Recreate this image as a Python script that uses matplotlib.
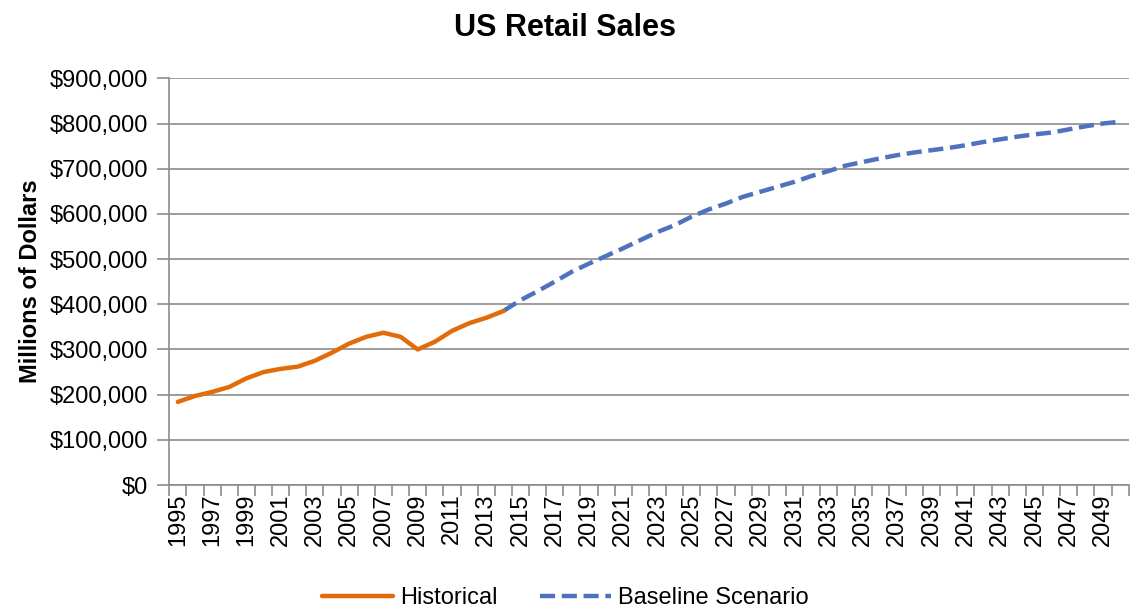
import numpy as np
import matplotlib.pyplot as plt
from matplotlib.ticker import FuncFormatter, FixedLocator

plt.rcParams['font.family'] = ['Liberation Sans', 'DejaVu Sans']

# Historical retail sales, millions of dollars
hist_years = list(range(1995, 2015))
hist_sales = [184000, 197000, 206000, 217000, 236000, 250000, 257000, 262000,
              275000, 293000, 313000, 328000, 337000, 328000, 300000, 317000,
              341000, 358000, 370000, 385000]

# Baseline projection, starting from the last historical year
base_years = list(range(2014, 2051))
base_sales = [385000, 409000, 429000, 450000, 472000, 490000, 507000, 524000,
              542000, 560000, 575000, 594000, 610000, 623000, 638000, 649000,
              660000, 671000, 684000, 695000, 707000, 715000, 723000, 730000,
              736000, 741000, 746000, 752000, 759000, 765000, 771000, 776000,
              780000, 787000, 794000, 800000, 804000]

label_years = list(range(1995, 2050, 2))

fig = plt.figure(figsize=(11.3, 6.12), dpi=100)
ax = fig.add_axes([0.1498, 0.2075, 0.849, 0.6645])

ax.plot(hist_years, hist_sales, color='#E36C0A', lw=3.2,
        solid_capstyle='round', solid_joinstyle='round',
        label='Historical', zorder=3)
ax.plot(base_years, base_sales, color='#4F72BE', lw=3.2,
        dashes=(3.4, 1.5), label='Baseline Scenario', zorder=2)

ax.set_xlim(1994.5, 2050.5)
ax.set_ylim(0, 900000)
ax.set_yticks(np.arange(0, 900001, 100000))
ax.yaxis.set_major_formatter(FuncFormatter(lambda v, p: '${:,.0f}'.format(v)))
ax.grid(axis='y', color='#8C8C8C', lw=1.2)
ax.set_axisbelow(True)

# tick marks sit between categories, labels on every other year
ax.xaxis.set_major_locator(FixedLocator(np.arange(1994.5, 2051, 1)))
ax.xaxis.set_major_formatter(FuncFormatter(lambda v, p: ''))
ax.xaxis.set_minor_locator(FixedLocator(label_years))
ax.set_xticklabels([str(y) for y in label_years], minor=True, rotation=90)
ax.tick_params(axis='x', which='major', length=8, color='#8C8C8C', width=1.2)
ax.tick_params(axis='x', which='minor', length=0, pad=6, labelsize=17)
ax.tick_params(axis='y', length=9, color='#8C8C8C', width=1.2,
               labelsize=17, pad=6)

for side in ['top', 'right']:
    ax.spines[side].set_visible(False)
for side in ['left', 'bottom']:
    ax.spines[side].set_color('#8C8C8C')
    ax.spines[side].set_linewidth(1.2)

ax.set_ylabel('Millions of Dollars', fontsize=17, fontweight='bold', labelpad=6)
fig.text(0.5, 0.955, 'US Retail Sales', ha='center', va='center',
         fontsize=22, fontweight='bold')

fig.legend(loc='center', bbox_to_anchor=(0.5, 0.023), ncol=2, frameon=False,
           fontsize=17, handlelength=3.0, columnspacing=1.8, handletextpad=0.3)

fig.savefig('out.png', dpi=100)
